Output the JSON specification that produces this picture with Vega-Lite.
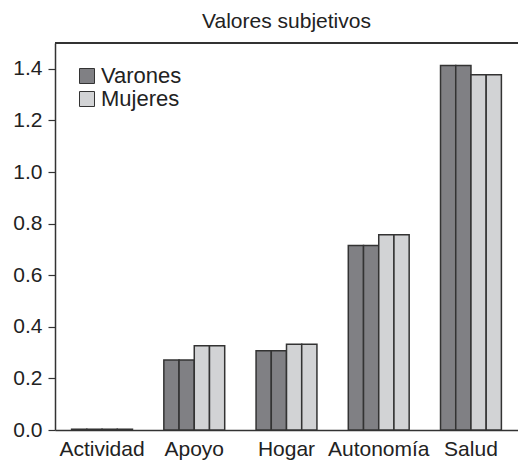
{
  "$schema": "https://vega.github.io/schema/vega-lite/v6.json",
  "width": 463,
  "height": 387,
  "autosize": {"type": "none"},
  "padding": {"left": 55, "top": 43, "right": 0, "bottom": 30},
  "background": "white",
  "config": {
    "view": {"stroke": null},
    "font": "Liberation Sans",
    "axis": {"labelFont": "Liberation Sans", "labelColor": "#222", "domainColor": "#333", "tickColor": "#333", "grid": false, "title": null}
  },
  "title": {"text": "Valores subjetivos", "fontSize": 21, "fontWeight": "normal", "color": "#222", "font": "Liberation Sans", "offset": 10, "anchor": "middle"},
  "data": {
    "values": [
      {"categoria": "Actividad", "sub": "V1", "sexo": "Varones", "valor": 0.003},
      {"categoria": "Actividad", "sub": "V2", "sexo": "Varones", "valor": 0.003},
      {"categoria": "Actividad", "sub": "M1", "sexo": "Mujeres", "valor": 0.003},
      {"categoria": "Actividad", "sub": "M2", "sexo": "Mujeres", "valor": 0.003},
      {"categoria": "Apoyo", "sub": "V1", "sexo": "Varones", "valor": 0.271},
      {"categoria": "Apoyo", "sub": "V2", "sexo": "Varones", "valor": 0.271},
      {"categoria": "Apoyo", "sub": "M1", "sexo": "Mujeres", "valor": 0.327},
      {"categoria": "Apoyo", "sub": "M2", "sexo": "Mujeres", "valor": 0.327},
      {"categoria": "Hogar", "sub": "V1", "sexo": "Varones", "valor": 0.307},
      {"categoria": "Hogar", "sub": "V2", "sexo": "Varones", "valor": 0.307},
      {"categoria": "Hogar", "sub": "M1", "sexo": "Mujeres", "valor": 0.332},
      {"categoria": "Hogar", "sub": "M2", "sexo": "Mujeres", "valor": 0.332},
      {"categoria": "Autonomía", "sub": "V1", "sexo": "Varones", "valor": 0.715},
      {"categoria": "Autonomía", "sub": "V2", "sexo": "Varones", "valor": 0.715},
      {"categoria": "Autonomía", "sub": "M1", "sexo": "Mujeres", "valor": 0.757},
      {"categoria": "Autonomía", "sub": "M2", "sexo": "Mujeres", "valor": 0.757},
      {"categoria": "Salud", "sub": "V1", "sexo": "Varones", "valor": 1.413},
      {"categoria": "Salud", "sub": "V2", "sexo": "Varones", "valor": 1.413},
      {"categoria": "Salud", "sub": "M1", "sexo": "Mujeres", "valor": 1.377},
      {"categoria": "Salud", "sub": "M2", "sexo": "Mujeres", "valor": 1.377}
    ]
  },
  "layer": [
    {
      "mark": {"type": "bar", "stroke": "#333", "strokeWidth": 1.5},
      "encoding": {
        "x": {
          "field": "categoria", "type": "nominal",
          "sort": ["Actividad", "Apoyo", "Hogar", "Autonomía", "Salud"],
          "scale": {"paddingInner": 0.34, "paddingOuter": 0.18},
          "axis": {"labelAngle": 0, "ticks": false, "labelFontSize": 21, "labelPadding": 8, "domainWidth": 1.5}
        },
        "xOffset": {"field": "sub", "type": "nominal", "sort": ["V1", "V2", "M1", "M2"], "scale": {"paddingInner": 0, "paddingOuter": 0}},
        "y": {
          "field": "valor", "type": "quantitative",
          "scale": {"domain": [0, 1.5], "nice": false},
          "axis": {"values": [0, 0.2, 0.4, 0.6, 0.8, 1.0, 1.2, 1.4], "format": ".1f", "labelFontSize": 21, "tickSize": 7, "labelPadding": 6, "domainWidth": 1.5, "tickWidth": 1.2}
        },
        "color": {
          "field": "sexo", "type": "nominal",
          "scale": {"domain": ["Varones", "Mujeres"], "range": ["#808084", "#d2d3d5"]},
          "legend": {
            "orient": "none", "legendX": 21, "legendY": 22, "title": null,
            "symbolType": "square", "symbolSize": 225, "symbolStrokeColor": "#333", "symbolStrokeWidth": 1,
            "labelFontSize": 22, "labelColor": "#222", "labelOffset": 3, "rowPadding": 1, "symbolOpacity": 1
          }
        }
      }
    },
    {
      "mark": {"type": "rule", "color": "#333", "strokeWidth": 1.5},
      "encoding": {"y": {"datum": 1.5}}
    }
  ]
}
